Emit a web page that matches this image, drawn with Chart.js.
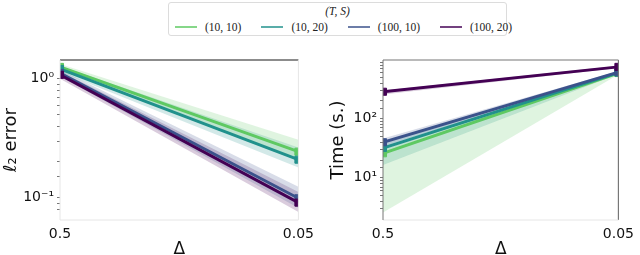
<!DOCTYPE html>
<html>
<head>
<meta charset="utf-8">
<script src="https://cdn.jsdelivr.net/npm/chart.js@4.4.1/dist/chart.umd.min.js"></script>
<style>
  html, body { margin: 0; padding: 0; background: #fff; }
  body { width: 640px; height: 255px; position: relative; overflow: hidden; }
  #c1 { position: absolute; left: 0; top: 0; }
  #c2 { position: absolute; left: 320px; top: 0; }
  #legend { position: absolute; left: 168px; top: 2px; width: 339px; height: 34px;
    border: 1px solid #dcdcdc; border-radius: 3px; font-family: "Liberation Serif", "DejaVu Serif", serif;
    font-size: 11.5px; color: #222; box-sizing: border-box; }
  #legend .title { position: absolute; left: 0; right: 0; top: 2px; text-align: center; font-style: italic; }
  #legend .items { position: absolute; left: 6px; top: 18px; display: flex; align-items: center; white-space: nowrap; }
  #legend .sw { display: inline-block; width: 22px; height: 2px; margin-right: 8px; }
  #legend .it { display: flex; align-items: center; margin-right: 20px; }
</style>
</head>
<body>
<div id="legend"><div class="title">(T, S)</div><div class="items" id="items"></div></div>
<canvas id="c1" width="320" height="255"></canvas>
<canvas id="c2" width="320" height="255"></canvas>
<script>
// ---------- data ----------
const categories = ['0.5', '0.05'];
const seriesNames = ['(10, 10)', '(10, 20)', '(100, 10)', '(100, 20)'];
const seriesColors = ['#5ec962', '#21918c', '#3b528b', '#440154'];

// l2 error (left panel)
const errMean = [[1.26, 0.244], [1.21, 0.209], [1.12, 0.099], [1.08, 0.091]];
const errLow  = [[1.19, 0.205], [1.14, 0.180], [1.05, 0.082], [1.00, 0.076]];
const errHigh = [[1.33, 0.307], [1.28, 0.265], [1.19, 0.124], [1.16, 0.112]];

// time (right panel)
const timeMean = [[26, 590], [32, 600], [40, 610], [285, 750]];
const timeLow  = [[2.6, 560], [16.5, 570], [34, 590], [255, 720]];
const timeHigh = [[30, 620], [38, 630], [46, 640], [300, 780]];

const errTickLabels = {'1': '10⁰', '0.1': '10⁻¹'};
const timeTickLabels = {'10': '10¹', '100': '10²'};

// ---------- helpers ----------
function rgba(hex, a) {
  const n = parseInt(hex.slice(1), 16);
  return `rgba(${(n >> 16) & 255},${(n >> 8) & 255},${n & 255},${a})`;
}

const items = document.getElementById('items');
seriesNames.forEach((n, i) => {
  const d = document.createElement('div'); d.className = 'it';
  const s = document.createElement('span'); s.className = 'sw'; s.style.background = rgba(seriesColors[i], 0.75);
  const t = document.createElement('span'); t.textContent = n;
  d.appendChild(s); d.appendChild(t); items.appendChild(d);
});

function buildDatasets(mean, low, high) {
  const ds = [];
  mean.forEach((m, i) => {
    ds.push({ data: high[i], borderWidth: 0, pointRadius: 0, fill: '+1', clip: 0,
      backgroundColor: rgba(seriesColors[i], 0.2), order: 10 + i });
    ds.push({ data: low[i], borderWidth: 0, pointRadius: 0, fill: false, clip: 0,
      backgroundColor: 'transparent', order: 10 + i });
  });
  mean.forEach((m, i) => {
    ds.push({ data: m, borderColor: seriesColors[i], backgroundColor: seriesColors[i], clip: 0,
      borderWidth: 3, pointStyle: 'rect', pointRadius: 5, pointBorderWidth: 1, fill: false, order: 4 - i });
  });
  return ds;
}

const framePlugin = {
  id: 'frame',
  afterDatasetsDraw(chart, args, opts) {
    const a = chart.chartArea, ctx = chart.ctx;
    const sides = [
      ['top', a.left, a.top, a.right, a.top],
      ['right', a.right, a.top, a.right, a.bottom],
      ['bottom', a.left, a.bottom, a.right, a.bottom],
      ['left', a.left, a.top, a.left, a.bottom]
    ];
    ctx.save();
    sides.forEach(s => {
      const st = opts[s[0]];
      ctx.strokeStyle = st[0]; ctx.lineWidth = st[1];
      ctx.beginPath(); ctx.moveTo(s[1], s[2]); ctx.lineTo(s[3], s[4]); ctx.stroke();
    });
    ctx.restore();
  }
};

function makeChart(id, mean, low, high, yMin, yMax, tickLabels, yTitle, pad, yWidth, titlePadTop, frame) {
  return new Chart(document.getElementById(id), {
    type: 'line',
    data: { labels: categories, datasets: buildDatasets(mean, low, high) },
    plugins: [framePlugin],
    options: {
      responsive: false, animation: false, devicePixelRatio: 1,
      layout: { padding: pad },
      plugins: { legend: { display: false }, tooltip: { enabled: false }, frame: frame },
      elements: { line: { tension: 0 } },
      scales: {
        x: {
          type: 'category', offset: false,
          grid: { display: false, drawTicks: false },
          border: { display: false },
          ticks: { color: '#111', font: { family: 'DejaVu Sans', size: 14 }, padding: 6, maxRotation: 0 },
          title: { display: true, text: 'Δ', color: '#111', font: { family: 'DejaVu Sans', size: 17 }, padding: { top: 0, bottom: -5 } },
          afterFit(s) { s.height = 35; }
        },
        y: {
          type: 'logarithmic', min: yMin, max: yMax,
          grid: { display: true, drawOnChartArea: false, tickLength: 3,
            tickColor: (c) => (c.index === 0 || c.index === c.chart.scales.y.ticks.length - 1) ? 'rgba(0,0,0,0)' : '#777',
            tickWidth: 1 },
          border: { display: false },
          ticks: { autoSkip: false, color: '#111', font: { family: 'DejaVu Sans', size: 14 }, padding: 3,
            callback: (v) => tickLabels[String(v)] || '' },
          title: { display: true, text: yTitle, color: '#111', font: { family: 'DejaVu Sans', size: 18 }, padding: { top: titlePadTop, bottom: 0 } },
          afterFit(s) { s.width = yWidth; }
        }
      }
    }
  });
}

makeChart('c1', errMean, errLow, errHigh, 0.065, 1.44, errTickLabels, 'ℓ₂ error',
  { top: 60, right: 18, bottom: 0, left: 0 }, 60, 1,
  { top: ['#666', 1.5], right: ['#e6e6e6', 1], bottom: ['#e6e6e6', 1], left: ['#e6e6e6', 1] });
makeChart('c2', timeMean, timeLow, timeHigh, 1.94, 980, timeTickLabels, 'Time (s.)',
  { top: 60, right: 14, bottom: 0, left: 0 }, 63, 8,
  { top: ['#777', 1.2], right: ['#777', 1.2], bottom: ['#e6e6e6', 1], left: ['#777', 1] });
</script>
</body>
</html>
